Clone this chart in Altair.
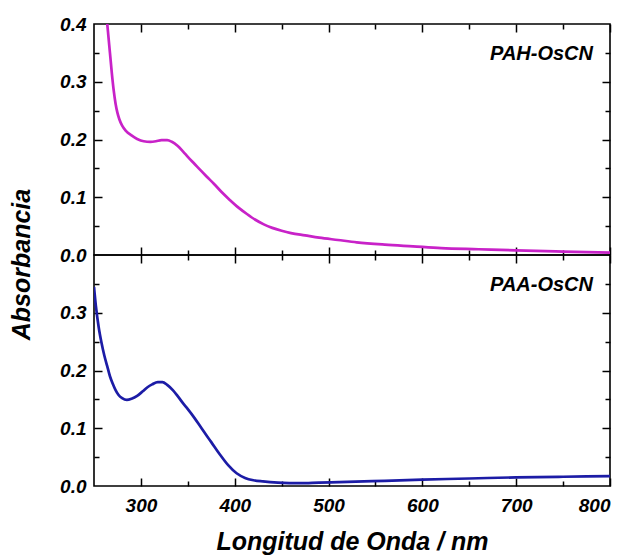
import altair as alt
import pandas as pd

# UV-vis spectra (wavelength in nm, absorbance)
pah_wl = [261, 263, 265, 267, 269, 271, 273, 275, 277, 280, 284, 290, 296, 303, 310,
          316, 322, 328, 333, 339, 345, 350, 357, 364, 370, 378, 386, 395, 404, 413,
          422, 431, 440, 450, 460, 475, 490, 510, 530, 560, 590, 620, 660, 700, 750, 800]
pah_abs = [0.46, 0.42, 0.385, 0.35, 0.315, 0.285, 0.262, 0.246, 0.235, 0.224, 0.215,
           0.207, 0.201, 0.197, 0.196, 0.197, 0.199, 0.199, 0.196, 0.189, 0.179, 0.170,
           0.158, 0.146, 0.136, 0.123, 0.109, 0.095, 0.082, 0.071, 0.061, 0.053, 0.047,
           0.042, 0.038, 0.034, 0.030, 0.026, 0.022, 0.018, 0.015, 0.012, 0.010, 0.008,
           0.006, 0.004]

paa_wl = [250, 252, 255, 258, 261, 264, 267, 270, 273, 276, 280, 285, 290, 296, 302,
          307, 312, 318, 323, 328, 334, 339, 345, 350, 357, 365, 375, 384, 393, 402,
          411, 420, 430, 446, 470, 490, 520, 560, 600, 650, 700, 750, 800]
paa_abs = [0.345, 0.312, 0.275, 0.248, 0.226, 0.208, 0.190, 0.177, 0.166, 0.158, 0.152,
           0.149, 0.151, 0.156, 0.164, 0.171, 0.176, 0.180, 0.180, 0.175, 0.166, 0.156,
           0.143, 0.133, 0.118, 0.099, 0.076, 0.055, 0.036, 0.022, 0.014, 0.010, 0.008,
           0.006, 0.005, 0.006, 0.007, 0.009, 0.011, 0.013, 0.015, 0.016, 0.017]

sample_names = ["PAH-OsCN", "PAA-OsCN"]
line_colors = ["#c822c8", "#1c1ca6"]

x_label_values = [300, 400, 500, 600, 700, 800]
x_major_ticks = [300, 400, 500, 600, 700, 800]
x_minor_ticks = [350, 450, 550, 650, 750]
y_label_values_top = [0.0, 0.1, 0.2, 0.3, 0.4]
y_label_values_bottom = [0.0, 0.1, 0.2, 0.3]
y_major_ticks = [0.1, 0.2, 0.3]
y_minor_ticks = [0.05, 0.15, 0.25, 0.35]

W, H = 516, 231
FONT = "Liberation Sans"


def tick_axis(orient, offset, values, size):
    # inward-pointing ticks drawn along one edge of the frame
    return alt.Axis(orient=orient, offset=offset, values=values, labels=False,
                    domain=False, grid=False, title=None, ticks=True,
                    tickColor="black", tickWidth=1.5, tickSize=size)


def panel(wl, ab, color, name, bottom):
    df = pd.DataFrame({"wl": wl, "abs": ab})
    xs = alt.Scale(domain=[250, 800], nice=False, zero=False)
    ys = alt.Scale(domain=[0, 0.4], nice=False, zero=False)

    if bottom:
        x_main = alt.Axis(orient="bottom", values=x_label_values, ticks=False, tickSize=0,
                          domain=False, grid=False, labelPadding=10,
                          title="Longitud de Onda / nm", titleY=63,
                          titleBaseline="alphabetic")
        y_main = alt.Axis(orient="left", values=y_label_values_bottom, ticks=False,
                          tickSize=0, domain=False, grid=False, labelPadding=8,
                          format=".1f", title=None)
    else:
        x_main = alt.Axis(orient="bottom", values=x_label_values, labels=False,
                          ticks=False, tickSize=0, domain=False, grid=False, title=None)
        y_main = alt.Axis(orient="left", values=y_label_values_top, ticks=False,
                          tickSize=0, domain=False, grid=False, labelPadding=8,
                          format=".1f", title="Absorbancia", titleX=-65, titleY=240,
                          titleBaseline="alphabetic", titleAlign="center")

    line = alt.Chart(df).mark_line(color=color, strokeWidth=2.7, clip=True,
                                   interpolate="monotone").encode(
        x=alt.X("wl:Q", scale=xs, axis=x_main),
        y=alt.Y("abs:Q", scale=ys, axis=y_main),
    )

    layers = [line]
    # frame ticks: (x orient, y orient, x values, y values, tick length)
    for xo, yo, xv, yv, size in [
        ("top", "right", x_major_ticks, y_major_ticks, 8),
        ("bottom", "left", x_major_ticks, y_major_ticks, 8),
        ("top", "right", x_minor_ticks, y_minor_ticks, 5),
        ("bottom", "left", x_minor_ticks, y_minor_ticks, 5),
    ]:
        layers.append(alt.Chart(df).mark_line(opacity=0, clip=True).encode(
            x=alt.X("wl:Q", scale=xs, axis=tick_axis(xo, -H, xv, size)),
            y=alt.Y("abs:Q", scale=ys, axis=tick_axis(yo, -W, yv, size)),
        ))

    layers.append(alt.Chart(pd.DataFrame({"name": [name]})).mark_text(
        align="right", baseline="middle", font=FONT, fontSize=20,
        fontStyle="italic", fontWeight="bold", color="black",
    ).encode(x=alt.value(W - 17), y=alt.value(30), text="name:N"))

    return alt.layer(*layers).resolve_axis(
        x="independent", y="independent"
    ).properties(width=W, height=H)


top = panel(pah_wl, pah_abs, line_colors[0], sample_names[0], bottom=False)
bottom = panel(paa_wl, paa_abs, line_colors[1], sample_names[1], bottom=True)

chart = alt.vconcat(top, bottom, spacing=0, bounds="flush").properties(
    padding={"left": 8, "top": 14, "right": 5, "bottom": 5},
    background="white",
).configure_view(
    stroke="black", strokeWidth=1.6
).configure_axis(
    labelFont=FONT, labelFontSize=19, labelFontStyle="italic", labelFontWeight="bold",
    labelColor="black", titleFont=FONT, titleFontSize=25, titleFontStyle="italic",
    titleFontWeight="bold", titleColor="black",
)

chart.save("out.html", embed_options={"renderer": "svg", "actions": False})
